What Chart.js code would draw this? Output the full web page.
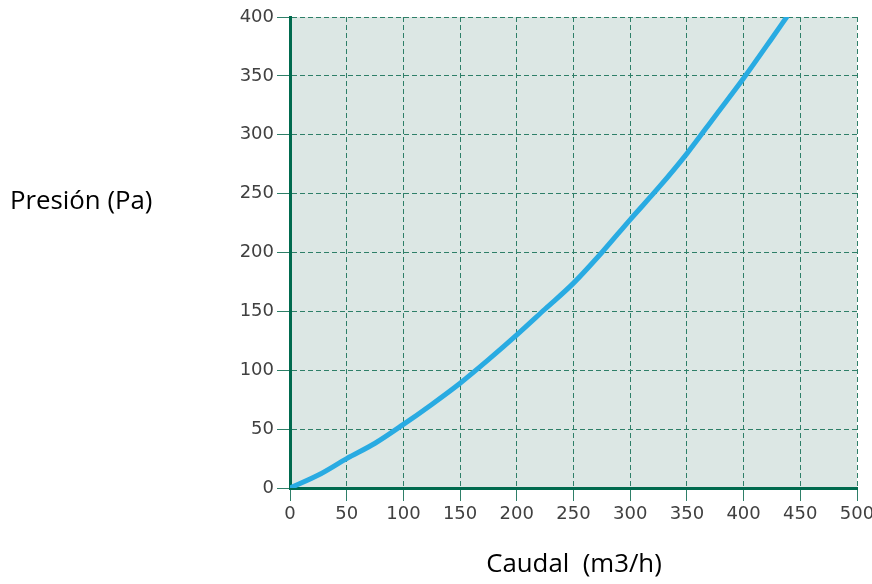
<!DOCTYPE html>
<html><head><meta charset="utf-8">
<script src="https://cdn.jsdelivr.net/npm/chart.js@4/dist/chart.umd.min.js"></script>
<style>html,body{margin:0;padding:0;background:#fff;}#wrap{width:872px;height:584px;position:relative;}</style>
</head><body><div id="wrap"><canvas id="c" width="872" height="584"></canvas></div>
<script>
const flow = [0,25,50,75,100,125,150,175,200,225,250,275,300,325,350,375,400,425,438];
const pressure = [0,11,25,38,54,71,89,109,130,152,174,200,228,255,284,316,348,382,400];
const xTicks = [0,50,100,150,200,250,300,350,400,450,500];
const yTicks = [0,50,100,150,200,250,300,350,400];
const yTitle = 'Presión (Pa)';
const xTitle = 'Caudal  (m3/h)';

const gridColor = '#2e7f68';
const axisColor = '#006a4e';
const tickFont = {family:'DejaVu Sans', size:18};

const bgPlugin = {
  id:'bg',
  beforeDraw(chart){
    const {ctx, chartArea:a} = chart;
    ctx.save();
    ctx.fillStyle = '#dce7e4';
    ctx.fillRect(a.left, a.top, a.right-a.left, a.bottom-a.top);
    ctx.restore();
  },
  afterDraw(chart){
    const {ctx} = chart;
    ctx.save();
    ctx.fillStyle = '#000';
    ctx.font = '25.8px "Open Sans"';
    ctx.textBaseline = 'middle';
    ctx.textAlign = 'left';
    ctx.fillText(yTitle, 10, 202);
    ctx.textAlign = 'center';
    ctx.fillText(xTitle, 574, 565);
    ctx.restore();
  }
};

new Chart(document.getElementById('c'), {
  type:'line',
  data:{datasets:[{
    data: flow.map((x,i)=>({x:x, y:pressure[i]})),
    borderColor:'#29abe2', borderWidth:5, pointRadius:0,
    borderCapStyle:'round', borderJoinStyle:'round',
    cubicInterpolationMode:'monotone', fill:false
  }]},
  options:{
    responsive:false, animation:false,
    layout:{padding:{left:0, top:17, right:15, bottom:0}},
    plugins:{legend:{display:false}, tooltip:{enabled:false}},
    scales:{
      x:{
        type:'linear', min:0, max:500,
        afterBuildTicks(s){ s.ticks = xTicks.map(v=>({value:v})); },
        afterFit(s){ s.height = 96; s.paddingLeft = 0; s.paddingRight = 0; },
        ticks:{font:tickFont, color:'#404040', padding:3, maxRotation:0, autoSkip:false},
        grid:{color:gridColor, lineWidth:1, tickLength:13, tickColor:gridColor, tickBorderDash:[], drawTicks:true},
        border:{display:true, color:axisColor, width:3, dash:[5,3]}
      },
      y:{
        type:'linear', min:0, max:400,
        afterBuildTicks(s){ s.ticks = yTicks.map(v=>({value:v})); },
        afterFit(s){ s.width = 290; s.paddingTop = 0; s.paddingBottom = 0; },
        ticks:{font:tickFont, color:'#404040', padding:3, autoSkip:false},
        grid:{color:gridColor, lineWidth:1, tickLength:13, tickColor:gridColor, tickBorderDash:[], drawTicks:true},
        border:{display:true, color:axisColor, width:3, dash:[5,3]}
      }
    }
  },
  plugins:[bgPlugin]
});
</script></body></html>
